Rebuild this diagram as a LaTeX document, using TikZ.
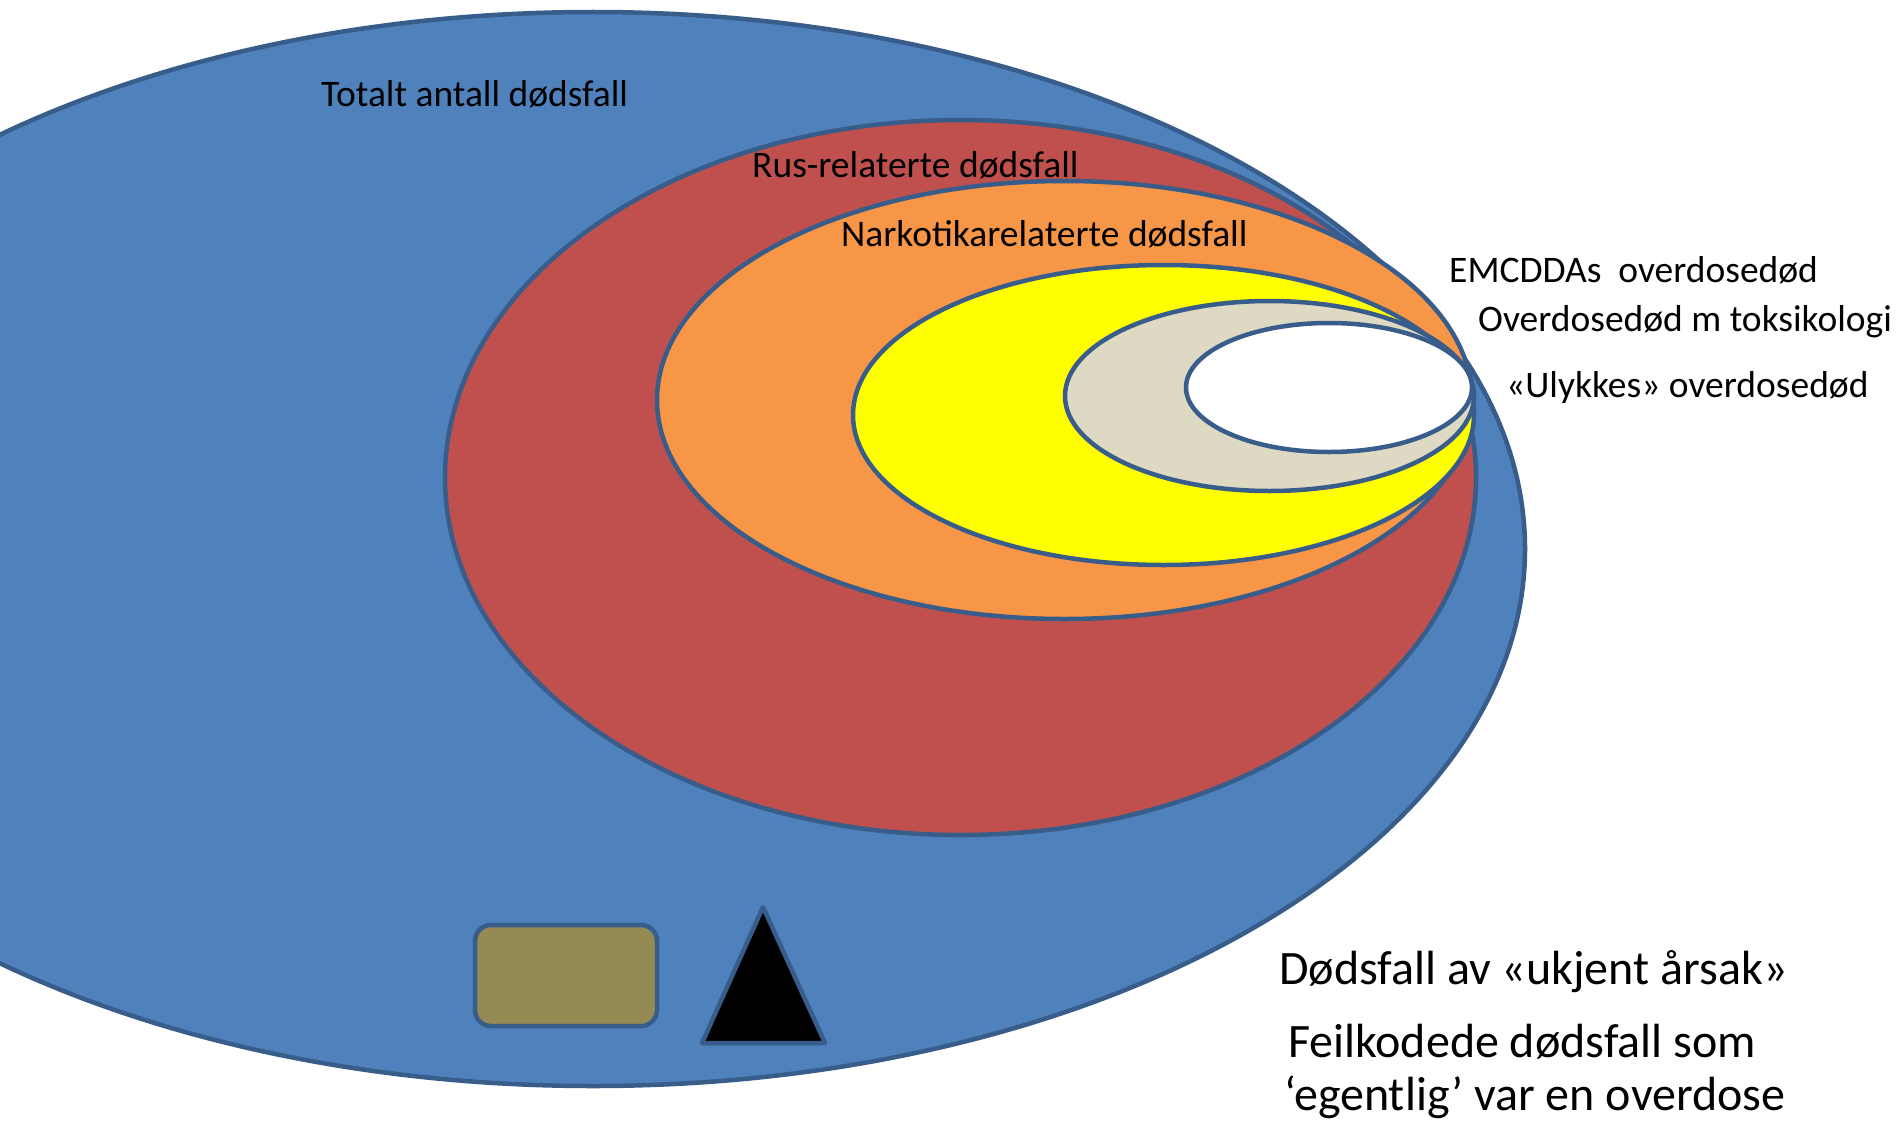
\documentclass[tikz,border=0pt]{standalone}
\usepackage{fontspec}
\setmainfont{Carlito}
\definecolor{outl}{HTML}{385D8A}
\definecolor{cblue}{HTML}{4F81BD}
\definecolor{cred}{HTML}{C0504D}
\definecolor{corange}{HTML}{F79646}
\definecolor{cyellow}{HTML}{FFFF00}
\definecolor{cbeige}{HTML}{DDD9C3}
\definecolor{colive}{HTML}{948A54}
\tikzset{
  ring/.style={draw=outl, line width=4.5pt},
  lbl/.style={anchor=base west, inner sep=0pt, font=\fontsize{37.5}{45}\selectfont},
  biglbl/.style={anchor=base west, inner sep=0pt, font=\fontsize{48}{58}\selectfont},
}
\begin{document}
\begin{tikzpicture}[x=1pt,y=-1pt]
\useasboundingbox (0,0) rectangle (1897,1124);
\clip (0,0) rectangle (1897,1124);
\fill[white] (0,0) rectangle (1897,1124);
% nested ellipses
\draw[ring, fill=cblue]   (593,549)   ellipse [x radius=932,   y radius=537];
\draw[ring, fill=cred]    (960.5,477.5) ellipse [x radius=515.5, y radius=357.5];
\draw[ring, fill=corange] (1064.5,400) ellipse [x radius=407.5, y radius=219];
\draw[ring, fill=cyellow] (1163.5,415) ellipse [x radius=310.5, y radius=150];
\draw[ring, fill=cbeige]  (1269.5,396) ellipse [x radius=204.5, y radius=95];
\draw[ring, fill=white]   (1329,387.5) ellipse [x radius=143,   y radius=64.5];
% small shapes
\draw[ring, fill=colive, rounded corners=16pt] (475,925) rectangle (657,1026);
\draw[ring, fill=black, line join=round] (763,907) -- (825,1043) -- (702,1043) -- cycle;
% labels
\node[lbl] (total) at (321,106) {Totalt antall dødsfall};
\node[lbl] (rus) at (752,177) {Rus-relaterte dødsfall};
\node[lbl] (nark) at (841,246) {Narkotikarelaterte dødsfall};
\node[lbl] (emc) at (1449,282) {EMCDDAs\ \ overdosedød};
\node[lbl] (tox) at (1478,331) {Overdosedød m toksikologi};
\node[lbl] (uly) at (1506,397) {«Ulykkes» overdosedød};
\node[biglbl] (ukj) at (1279,984) {Dødsfall av «ukjent årsak»};
\node[biglbl] (feil) at (1288,1057) {Feilkodede dødsfall som};
\node[biglbl] (egent) at (1284,1110) {‘egentlig’ var en overdose};
\end{tikzpicture}
\end{document}
